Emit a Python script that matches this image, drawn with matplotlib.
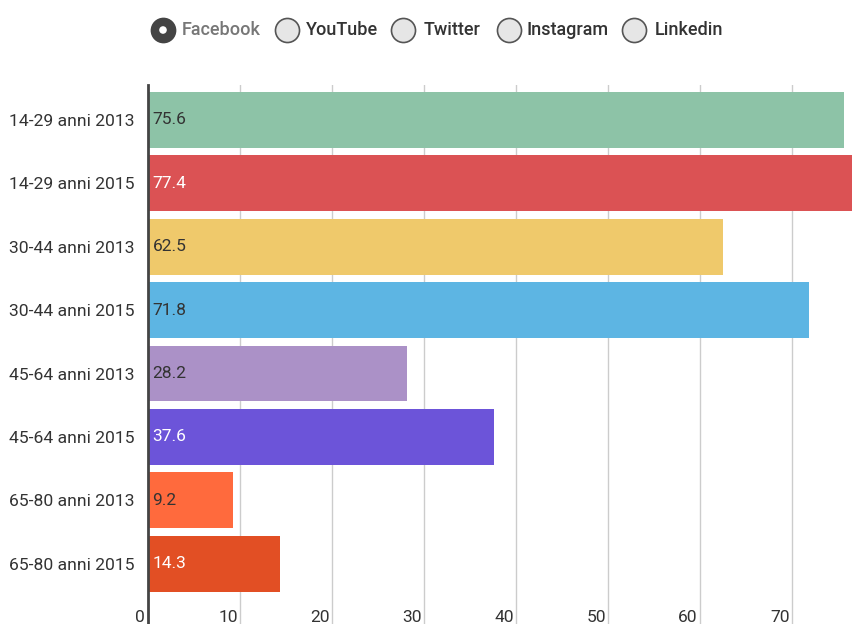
import matplotlib.pyplot as plt

plt.rcParams['font.family'] = ['Roboto', 'DejaVu Sans']

# data
categories = ["14-29 anni 2013", "14-29 anni 2015", "30-44 anni 2013", "30-44 anni 2015",
              "45-64 anni 2013", "45-64 anni 2015", "65-80 anni 2013", "65-80 anni 2015"]
values = [75.6, 77.4, 62.5, 71.8, 28.2, 37.6, 9.2, 14.3]
colors = ["#8dc3a7", "#db5254", "#efc96b", "#5db5e3",
          "#ab91c7", "#6c54d9", "#ff6a3d", "#e24f24"]
label_colors = ["#333333", "#ffffff", "#333333", "#333333",
                "#333333", "#ffffff", "#333333", "#ffffff"]
legend_names = ["Facebook", "YouTube", "Twitter", "Instagram", "Linkedin"]
x_ticks = [0, 10, 20, 30, 40, 50, 60, 70]

W, H = 853, 624
fig = plt.figure(figsize=(W / 100, H / 100), dpi=100)

# main axes: left edge at x=148px, top at 85px, down to bottom of image
ax = fig.add_axes([148 / W, 0, 1 - 148 / W, 1 - 85 / H])
ypos = list(range(len(categories)))
ax.barh(ypos, values, height=0.88, color=colors, zorder=2)
ax.set_xlim(0, (W - 148) / 9.2)
ax.set_ylim(7.95, -0.55)

for x in x_ticks[1:]:
    ax.axvline(x, color="#cccccc", lw=1, zorder=1)
    ax.text(x - 0.25, 7.85, str(x), ha="right", va="center", fontsize=12.5, color="#333333")
ax.text(-0.3, 7.85, "0", ha="right", va="center", fontsize=12.5, color="#333333", clip_on=False)

for y, v, c in zip(ypos, values, label_colors):
    ax.text(0.5, y, f"{v}", ha="left", va="center", fontsize=12.5, color=c, zorder=3)

ax.set_xticks([])
ax.set_yticks(ypos)
ax.set_yticklabels(categories, fontsize=12.6, color="#333333")
ax.tick_params(axis="y", length=0, pad=10)
for s in ["top", "right", "bottom"]:
    ax.spines[s].set_visible(False)
ax.spines["left"].set_color("#444444")
ax.spines["left"].set_linewidth(2)
ax.spines["left"].set_zorder(4)

# legend drawn as radio buttons
lg = fig.add_axes([0, 1 - 62 / H, 1, 62 / H])
lg.set_xlim(0, W)
lg.set_ylim(62, 0)
lg.axis("off")
circle_x = [163, 287, 403, 509, 634]
text_x = [182, 306, 424, 527, 655]
for i, name in enumerate(legend_names):
    if i == 0:
        lg.scatter(circle_x[i], 30, s=300, color="#444444", edgecolor="#444444", lw=1.2)
        lg.scatter(circle_x[i], 30, s=30, color="white", edgecolor="none")
        tc = "#777777"
    else:
        lg.scatter(circle_x[i], 30, s=300, color="#e6e6e6", edgecolor="#555555", lw=1.2)
        tc = "#333333"
    lg.text(text_x[i], 30, name, ha="left", va="center", fontsize=13,
            color=tc, fontweight="medium")

fig.savefig("out.png", dpi=100)
